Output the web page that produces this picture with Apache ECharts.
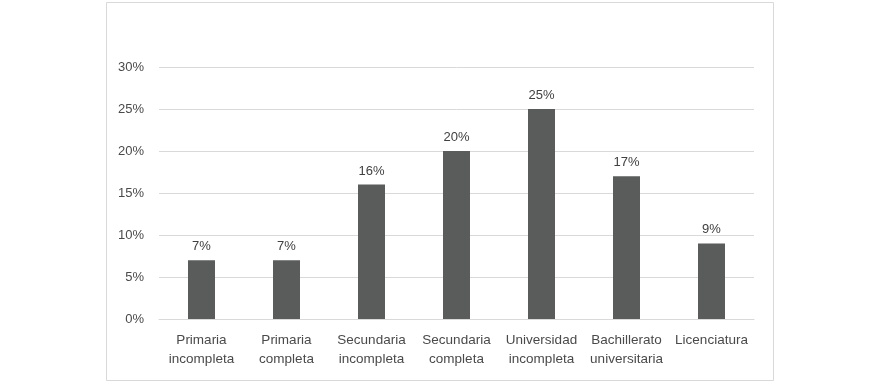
<!DOCTYPE html>
<html>
<head>
<meta charset="utf-8">
<script src="https://cdn.jsdelivr.net/npm/echarts@6/dist/echarts.min.js"></script>
<style>
html,body{margin:0;padding:0;background:#fff;}
#chart{width:887px;height:383px;}
</style>
</head>
<body>
<div id="chart"></div>
<script>
const categories = ["Primaria\nincompleta", "Primaria\ncompleta", "Secundaria\nincompleta", "Secundaria\ncompleta", "Universidad\nincompleta", "Bachillerato\nuniversitaria", "Licenciatura"];
const values = [7, 7, 16, 20, 25, 17, 9];
const yTicks = { min: 0, max: 30, interval: 5 };

const chart = echarts.init(document.getElementById('chart'), null, { renderer: 'canvas' });
const font = 'Liberation Sans, Arial, sans-serif';
chart.setOption({
  animation: false,
  backgroundColor: '#fff',
  graphic: [{
    type: 'rect',
    shape: { x: 106.5, y: 2.5, width: 667, height: 378 },
    style: { fill: 'none', stroke: '#d9d9d9', lineWidth: 1 },
    silent: true
  }],
  grid: { left: 159, right: 133, top: 67, bottom: 64, containLabel: false },
  xAxis: {
    type: 'category',
    data: categories,
    axisLine: { lineStyle: { color: '#d9d9d9', width: 1 } },
    axisTick: { show: false },
    axisLabel: { color: '#4a4a4a', fontSize: 13.5, fontFamily: font, lineHeight: 19, margin: 12, interval: 0 }
  },
  yAxis: {
    type: 'value',
    min: yTicks.min, max: yTicks.max, interval: yTicks.interval,
    axisLine: { show: false },
    axisTick: { show: false },
    splitLine: { lineStyle: { color: '#d9d9d9', width: 1 } },
    axisLabel: { color: '#4a4a4a', fontSize: 13, fontFamily: font, margin: 15, formatter: '{value}%' }
  },
  series: [{
    type: 'bar',
    data: values,
    barWidth: 27,
    itemStyle: { color: '#5a5b5b' },
    label: { show: true, position: 'top', distance: 7, color: '#404040', fontSize: 13, fontFamily: font, formatter: '{c}%' }
  }]
});
</script>
</body>
</html>
